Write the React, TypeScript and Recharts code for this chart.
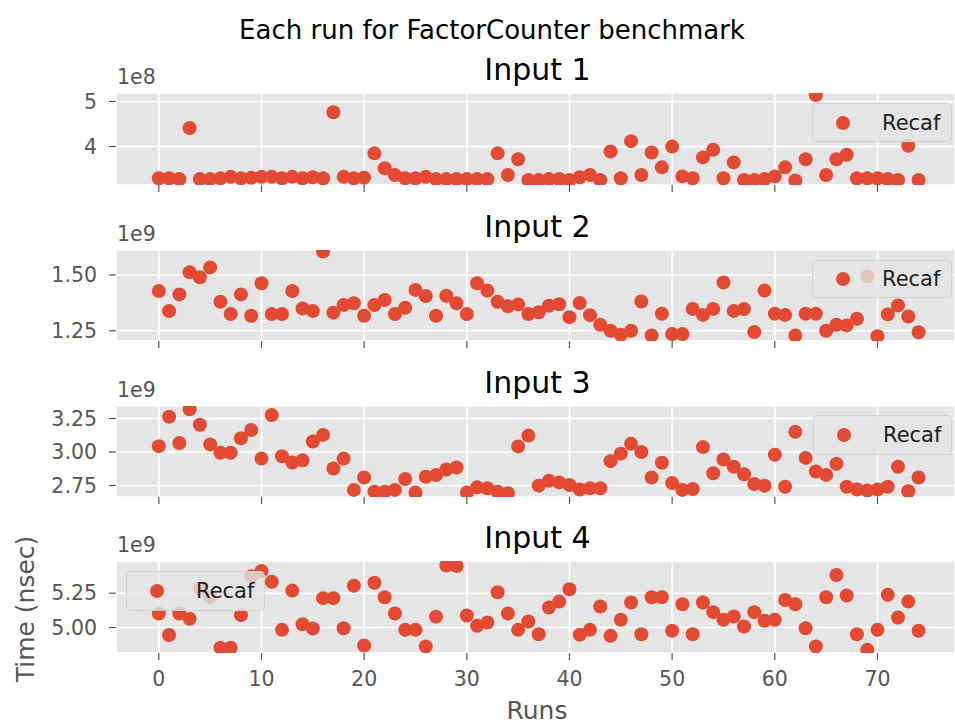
import { CartesianGrid, Legend, Scatter, ScatterChart, XAxis, YAxis } from "recharts";

// run index for each benchmark repetition
const runs = [
  0, 1, 2, 3, 4, 5, 6, 7, 8, 9, 10, 11, 12, 13, 14, 15, 16, 17, 18, 19, 20, 21, 22, 23, 24,
  25, 26, 27, 28, 29, 30, 31, 32, 33, 34, 35, 36, 37, 38, 39, 40, 41, 42, 43, 44, 45, 46, 47,
  48, 49, 50, 51, 52, 53, 54, 55, 56, 57, 58, 59, 60, 61, 62, 63, 64, 65, 66, 67, 68, 69, 70,
  71, 72, 73, 74,
];

// Time (nsec) per run, in units of the panel's offset (1e8 / 1e9)
const input1 = [
  3.3, 3.3, 3.28, 4.41, 3.28, 3.28, 3.3, 3.33, 3.3, 3.31, 3.33, 3.33, 3.3, 3.33, 3.3, 3.32,
  3.3, 4.76, 3.33, 3.3, 3.31, 3.85, 3.52, 3.37, 3.3, 3.3, 3.33, 3.28, 3.28, 3.28, 3.28, 3.28,
  3.28, 3.85, 3.37, 3.72, 3.26, 3.26, 3.28, 3.28, 3.26, 3.32, 3.37, 3.26, 3.89, 3.3, 4.12,
  3.37, 3.87, 3.54, 4.0, 3.34, 3.3, 3.76, 3.93, 3.3, 3.65, 3.26, 3.26, 3.28, 3.34, 3.54, 3.25,
  3.72, 5.14, 3.37, 3.72, 3.82, 3.3, 3.3, 3.3, 3.28, 3.26, 4.02, 3.26,
];
const input2 = [
  1.428, 1.338, 1.413, 1.512, 1.49, 1.534, 1.38, 1.325, 1.413, 1.317, 1.463, 1.325, 1.325,
  1.428, 1.35, 1.338, 1.605, 1.331, 1.365, 1.373, 1.317, 1.365, 1.388, 1.325, 1.353, 1.433,
  1.406, 1.317, 1.407, 1.373, 1.325, 1.463, 1.43, 1.38, 1.36, 1.368, 1.325, 1.333, 1.362,
  1.369, 1.311, 1.374, 1.32, 1.277, 1.25, 1.232, 1.25, 1.381, 1.229, 1.326, 1.235, 1.235,
  1.348, 1.321, 1.348, 1.466, 1.339, 1.347, 1.244, 1.43, 1.326, 1.321, 1.229, 1.326, 1.326,
  1.25, 1.277, 1.274, 1.304, 1.493, 1.225, 1.324, 1.363, 1.314, 1.243,
];
const input3 = [
  3.044, 3.264, 3.067, 3.32, 3.204, 3.057, 2.995, 2.995, 3.103, 3.165, 2.951, 3.276, 2.968,
  2.921, 2.938, 3.079, 3.128, 2.877, 2.951, 2.717, 2.81, 2.704, 2.704, 2.717, 2.798, 2.697,
  2.815, 2.828, 2.869, 2.884, 2.697, 2.736, 2.729, 2.704, 2.692, 3.042, 3.123, 2.749, 2.785,
  2.773, 2.754, 2.72, 2.729, 2.729, 2.932, 2.988, 3.061, 3.0, 2.81, 2.92, 2.768, 2.717, 2.724,
  3.037, 2.841, 2.944, 2.89, 2.834, 2.761, 2.749, 2.98, 2.741, 3.151, 2.956, 2.854, 2.829,
  2.912, 2.741, 2.72, 2.712, 2.72, 2.741, 2.89, 2.707, 2.81,
];
const input4 = [
  5.102, 4.945, 5.102, 5.064, 5.286, 5.221, 4.852, 4.852, 5.09, 5.374, 5.412, 5.333, 4.983,
  5.269, 5.024, 4.993, 5.214, 5.214, 4.995, 5.305, 4.869, 5.326, 5.221, 5.102, 4.983, 4.983,
  4.862, 5.079, 5.452, 5.448, 5.088, 5.012, 5.036, 5.257, 5.102, 4.983, 5.044, 4.951, 5.146,
  5.189, 5.279, 4.947, 4.983, 5.153, 4.939, 5.056, 5.182, 4.951, 5.221, 5.221, 4.976, 5.17,
  4.951, 5.182, 5.112, 5.056, 5.08, 5.007, 5.112, 5.049, 5.056, 5.201, 5.17, 4.995, 4.862,
  5.221, 5.383, 5.233, 4.951, 4.837, 4.983, 5.238, 5.073, 5.189, 4.976,
];

const series = [input1, input2, input3, input4];
const panelTitles = ["Input 1", "Input 2", "Input 3", "Input 4"];
const offsetLabels = ["1e8", "1e9", "1e9", "1e9"];
const xTicks = [0, 10, 20, 30, 40, 50, 60, 70];
const yTicks = [
  [4, 5],
  [1.25, 1.5],
  [2.75, 3, 3.25],
  [5, 5.25],
];
const yDecimals = [0, 2, 2, 2];
const yDomains: [number, number][] = [
  [3.149, 5.187],
  [1.204, 1.612],
  [2.664, 3.344],
  [4.814, 5.485],
];
const xDomain: [number, number] = [-4.17, 77.55];
const legendLabel = "Recaf";

// layout
const WIDTH = 955;
const HEIGHT = 727;
const PLOT_LEFT = 116;
const PAD_TOP = 10;
const plotTops = [93, 250, 406, 561];
const plotHeights = [92, 91, 91, 92];
const legendBoxes = [
  { left: 812, top: 103, width: 140, height: 39 },
  { left: 812, top: 260, width: 140, height: 38 },
  { left: 813, top: 415, width: 139, height: 40 },
  { left: 126, top: 571, width: 139, height: 40 },
];

const RED = "#E24A33";
const FONT = "'DejaVu Sans', sans-serif";

function Dot(props: { cx?: number; cy?: number }) {
  if (props.cx == null || props.cy == null) return null;
  return <circle cx={props.cx} cy={props.cy} r={7} fill={RED} />;
}

function RecafLegend() {
  return (
    <div
      style={{
        position: "relative",
        width: "100%",
        height: "100%",
        boxSizing: "border-box",
        background: "rgba(229,229,229,0.8)",
        border: "1px solid rgba(204,204,204,0.8)",
        borderRadius: 5,
        fontFamily: FONT,
      }}
    >
      <svg width={20} height={20} style={{ position: "absolute", left: 20, top: "50%", marginTop: -10 }}>
        <circle cx={10} cy={10} r={7} fill={RED} />
      </svg>
      <span
        style={{
          position: "absolute",
          left: 69,
          top: "50%",
          transform: "translateY(-50%)",
          fontSize: 21,
          lineHeight: 1,
          color: "#222",
        }}
      >
        {legendLabel}
      </span>
    </div>
  );
}

function Panel({ index }: { index: number }) {
  const last = index === series.length - 1;
  const axisHeight = last ? 40 : 10;
  const plotHeight = plotHeights[index];
  const top = plotTops[index] - PAD_TOP;
  const box = legendBoxes[index];
  const data = runs.map((run, i) => ({ run, value: series[index][i] }));
  const digits = yDecimals[index];

  return (
    <div style={{ position: "absolute", left: 0, top }}>
      <ScatterChart
        width={WIDTH}
        height={PAD_TOP + plotHeight + axisHeight}
        margin={{ top: PAD_TOP, right: 0, bottom: 0, left: 0 }}
      >
        <CartesianGrid fill="#E5E5E5" fillOpacity={1} stroke="#FFFFFF" strokeWidth={1.6} />
        <XAxis
          type="number"
          dataKey="run"
          domain={xDomain}
          ticks={xTicks}
          interval={0}
          allowDataOverflow
          axisLine={false}
          tickLine={{ stroke: "#555555", strokeWidth: 1.2 }}
          tickSize={7}
          tickMargin={11}
          height={axisHeight}
          tick={{ fill: "#555555", fontSize: 20.5, fontFamily: FONT }}
          tickFormatter={(v: number) => (last ? String(v) : "")}
        />
        <YAxis
          type="number"
          dataKey="value"
          domain={yDomains[index]}
          ticks={yTicks[index]}
          interval={0}
          allowDataOverflow
          axisLine={false}
          tickLine={{ stroke: "#555555", strokeWidth: 1.2 }}
          tickSize={7}
          tickMargin={12}
          width={PLOT_LEFT}
          tick={{ fill: "#555555", fontSize: 20.5, fontFamily: FONT }}
          tickFormatter={(v: number) => v.toFixed(digits)}
        />
        <Legend
          layout="horizontal"
          verticalAlign="middle"
          align="center"
          wrapperStyle={{
            left: box.left,
            top: box.top - top,
            width: box.width,
            height: box.height,
          }}
          content={() => <RecafLegend />}
        />
        <Scatter
          name={legendLabel}
          data={data}
          fill={RED}
          shape={Dot}
          isAnimationActive={false}
        />
      </ScatterChart>
    </div>
  );
}

function Caption({
  x,
  y,
  size,
  color = "#000",
  anchor = "middle",
  rotate = false,
  children,
}: {
  x: number;
  y: number;
  size: number;
  color?: string;
  anchor?: "start" | "middle";
  rotate?: boolean;
  children: string;
}) {
  const tx = anchor === "middle" ? "-50%" : "0";
  return (
    <div
      style={{
        position: "absolute",
        left: x,
        top: y,
        transform: `translate(${tx}, -50%)${rotate ? " rotate(-90deg)" : ""}`,
        fontSize: size,
        lineHeight: 1,
        color,
        whiteSpace: "nowrap",
      }}
    >
      {children}
    </div>
  );
}

export default function App() {
  const titleCenter = (PLOT_LEFT + WIDTH) / 2 + 2;
  return (
    <div
      style={{
        position: "absolute",
        left: 0,
        top: 0,
        width: WIDTH,
        height: HEIGHT,
        background: "#FFFFFF",
        fontFamily: FONT,
        overflow: "hidden",
      }}
    >
      {series.map((_, i) => (
        <Panel key={i} index={i} />
      ))}
      <Caption x={492} y={30} size={26}>
        Each run for FactorCounter benchmark
      </Caption>
      {panelTitles.map((t, i) => (
        <Caption key={t} x={titleCenter} y={plotTops[i] - 23} size={30}>
          {t}
        </Caption>
      ))}
      {offsetLabels.map((t, i) => (
        <Caption key={i} x={PLOT_LEFT + 1} y={plotTops[i] - 16} size={20.5} color="#555555" anchor="start">
          {t}
        </Caption>
      ))}
      <Caption x={25} y={609} size={25} color="#555555" rotate>
        Time (nsec)
      </Caption>
      <Caption x={537} y={710} size={25} color="#555555">
        Runs
      </Caption>
    </div>
  );
}
